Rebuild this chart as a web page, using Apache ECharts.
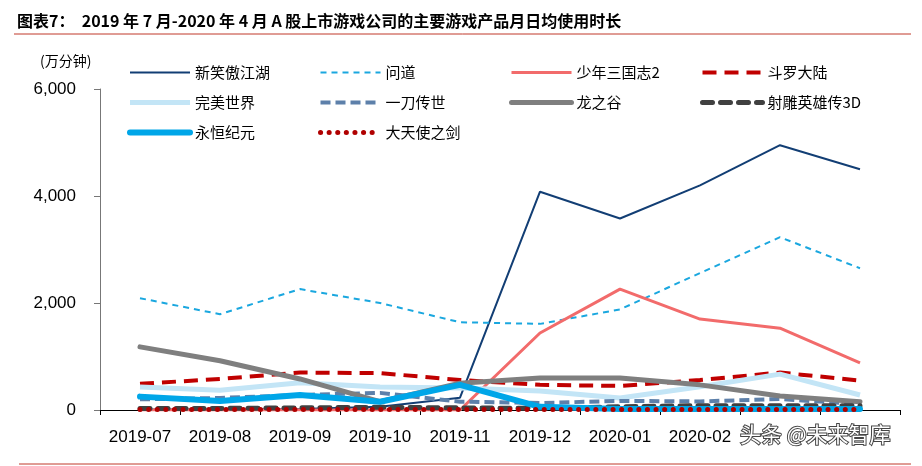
<!DOCTYPE html>
<html>
<head>
<meta charset="utf-8">
<script src="https://cdn.jsdelivr.net/npm/echarts@6/dist/echarts.min.js"></script>
<style>
  html, body { margin: 0; padding: 0; background: #fff; }
  #main { width: 922px; height: 466px; }
</style>
</head>
<body>
<div id="main"></div>
<script>
var months = ['2019-07', '2019-08', '2019-09', '2019-10', '2019-11', '2019-12', '2020-01', '2020-02', '2020-03', '2020-04'];
var yTicks = [0, 2000, 4000, 6000];

// 万分钟
var xiaoao   = [10, 10, 20, 60, 230, 4080, 3580, 4200, 4950, 4500];
var wendao   = [2090, 1790, 2260, 2000, 1640, 1610, 1880, 2560, 3230, 2650];
var shaonian = [0, 0, 0, 0, 0, 1440, 2260, 1700, 1530, 880];
var douluo   = [490, 580, 700, 690, 560, 470, 450, 560, 700, 550];
var wanmei   = [430, 370, 510, 430, 410, 355, 225, 435, 670, 280];
var yidao    = [200, 225, 280, 320, 155, 130, 170, 160, 205, 110];
var longzhi  = [1180, 920, 580, 155, 500, 600, 600, 470, 260, 155];
var shediao  = [30, 30, 40, 50, 40, 30, 60, 80, 80, 80];
var yongheng = [250, 170, 280, 155, 470, 60, 20, 20, 20, 20];
var tianshi  = [10, 10, 10, 10, 10, 10, 10, 10, 10, 10];

var dom = document.getElementById('main');
var myChart = echarts.init(dom);
var cjk = '"Noto Sans CJK SC", sans-serif';
var widths = {};

function line(name, data, color, width, type, cap) {
    widths[name] = width;
    return {
        name: name,
        type: 'line',
        data: data,
        symbol: 'none',
        lineStyle: { color: color, width: width, type: type || 'solid', cap: cap || 'butt' },
        itemStyle: { color: color }
    };
}

var series = [
    line('新笑傲江湖', xiaoao, '#123E74', 2),
    line('问道', wendao, '#1AA7DF', 2, [6, 5]),
    line('少年三国志2', shaonian, '#F26B6B', 3),
    line('斗罗大陆', douluo, '#C00000', 4, [14, 8]),
    line('完美世界', wanmei, '#C3E5F6', 5),
    line('一刀传世', yidao, '#5D80AA', 4, [10, 5]),
    line('龙之谷', longzhi, '#7F7F7F', 5, 'solid', 'round'),
    line('射雕英雄传3D', shediao, '#404040', 5, [10, 8], 'round'),
    line('永恒纪元', yongheng, '#00A6E8', 6, 'solid', 'round'),
    line('大天使之剑', tianshi, '#B00000', 5, [0.1, 8.5], 'round')
];

function legendCol(left, names) {
    return {
        left: left,
        top: 60,
        orient: 'vertical',
        itemWidth: 60,
        itemHeight: 14,
        itemGap: 15,
        data: names.map(function (n) {
            return { name: n, lineStyle: { width: widths[n] } };
        }),
        itemStyle: { opacity: 0 },
        textStyle: { fontSize: 15, color: '#000', fontFamily: cjk }
    };
}

option = {
    animation: false,
    title: {
        text: '图表7：  2019 年 7 月-2020 年 4 月 A 股上市游戏公司的主要游戏产品月日均使用时长',
        left: 12,
        top: 8,
        textStyle: { fontSize: 16, fontWeight: 'bold', color: '#000', fontFamily: cjk }
    },
    graphic: [
        { type: 'line', shape: { x1: 14, y1: 34, x2: 911, y2: 34 }, style: { stroke: '#C0392B', lineWidth: 1 } },
        { type: 'line', shape: { x1: 19, y1: 464, x2: 911, y2: 464 }, style: { stroke: '#C0392B', lineWidth: 1 } },
        { type: 'text', left: 40, top: 54, style: { text: '(万分钟)', fontSize: 14, fill: '#000', fontFamily: cjk } },
        { type: 'text', left: 738, top: 423, z: 100, style: { text: '头条 @未来智库', fontSize: 21, fill: '#fff', stroke: '#444', lineWidth: 2, fontFamily: cjk, backgroundColor: '#fff', padding: [0, 12, 0, 2] } }
    ],
    legend: [
        legendCol(122, ['新笑傲江湖', '完美世界', '永恒纪元']),
        legendCol(313, ['问道', '一刀传世', '大天使之剑']),
        legendCol(504, ['少年三国志2', '龙之谷']),
        legendCol(695, ['斗罗大陆', '射雕英雄传3D'])
    ],
    grid: { left: 100, right: 22, top: 89, bottom: 56 },
    xAxis: {
        type: 'category',
        data: months,
        boundaryGap: true,
        axisLine: { lineStyle: { color: '#000', width: 1 } },
        axisTick: { show: true, length: 5, lineStyle: { color: '#000' } },
        axisLabel: { interval: 0, fontSize: 17, color: '#000', margin: 19, fontFamily: 'Liberation Sans' }
    },
    yAxis: {
        type: 'value',
        min: yTicks[0],
        max: yTicks[yTicks.length - 1],
        interval: 2000,
        axisLine: { show: true, lineStyle: { color: '#777', width: 1 } },
        axisTick: { show: true, length: 6, lineStyle: { color: '#777' } },
        splitLine: { show: false },
        axisLabel: {
            fontSize: 17, color: '#000', margin: 24, fontFamily: 'Liberation Sans',
            formatter: function (v) { return v.toLocaleString('en-US'); }
        }
    },
    series: series
};

if (option && typeof option === "object") {
    myChart.setOption(option, true);
}
window.onresize = myChart.resize;
</script>
</body>
</html>
